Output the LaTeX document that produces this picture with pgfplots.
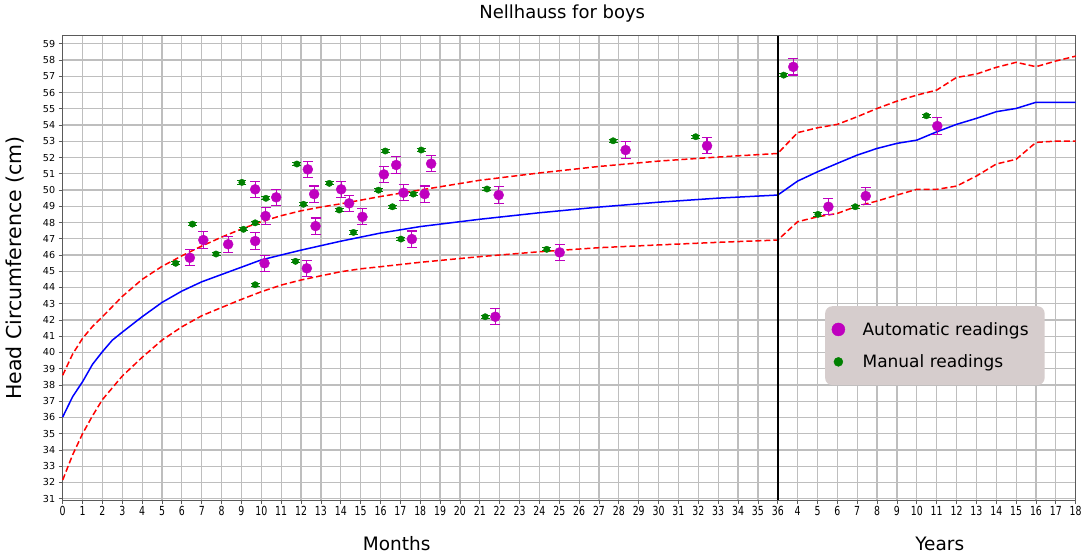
\documentclass[border=0pt]{standalone}
\usepackage{fontspec}
\setmainfont{DejaVu Sans}
\usepackage{pgfplots}
\usepackage{pgfplotstable}
\pgfplotsset{compat=1.18}

\definecolor{magc}{RGB}{191,0,191}
\definecolor{grn}{RGB}{0,128,0}
\definecolor{legbg}{RGB}{214,205,205}
\definecolor{gridc}{RGB}{190,190,190}
\definecolor{spine}{RGB}{90,90,90}

% x: months 0..36, then years 4..18 at 37..51
\pgfplotstableread{
x y
0 36.03
0.5 37.28
1 38.2
1.5 39.27
2 40.05
2.5 40.76
3 41.25
4 42.2
5 43.08
6 43.78
7 44.35
8 44.8
9 45.25
10 45.7
12 46.3
14 46.85
16 47.35
18 47.75
21 48.2
24 48.6
27 48.95
30 49.25
33 49.5
36 49.69
37 50.55
38 51.12
39 51.64
40 52.15
41 52.56
42 52.87
43 53.07
44 53.58
45 54.04
46 54.41
47 54.82
48 55.02
49 55.4
50 55.4
51 55.4
}\meandata

\pgfplotstableread{
x y
0 38.6
0.5 39.9
1 40.87
1.5 41.6
2 42.2
3 43.45
4 44.5
5 45.3
6 45.95
7 46.55
8 47.1
9 47.6
10 48.05
11 48.42
12 48.72
13 48.95
14 49.15
16 49.6
18 50.0
21 50.6
24 51.05
27 51.45
30 51.78
33 52.03
36 52.25
37 53.53
38 53.83
39 54.04
40 54.51
41 55.02
42 55.47
43 55.84
44 56.15
45 56.93
46 57.14
47 57.55
48 57.86
49 57.59
50 57.94
51 58.24
}\upperdata

\pgfplotstableread{
x y
0 32.15
0.5 33.7
1 35.0
1.5 36.1
2 37.1
3 38.55
4 39.7
5 40.76
6 41.58
7 42.26
8 42.77
9 43.27
10 43.74
11 44.15
12 44.46
13 44.72
14 44.97
15 45.15
16 45.28
18 45.55
21 45.9
24 46.2
27 46.45
30 46.62
33 46.78
36 46.92
37 48.05
38 48.35
39 48.56
40 49.01
41 49.32
42 49.69
43 50.04
44 50.04
45 50.24
46 50.86
47 51.6
48 51.89
49 52.93
50 53.01
51 53.01
}\lowerdata

\pgfplotstableread{
x y e
6.40 45.83 0.5
7.08 46.92 0.5
8.33 46.66 0.5
9.69 50.04 0.5
9.69 46.86 0.5
10.16 45.49 0.5
10.21 48.40 0.5
10.75 49.55 0.5
12.29 45.18 0.5
12.34 51.27 0.5
12.66 49.75 0.5
12.73 47.78 0.5
14.02 50.04 0.5
14.42 49.18 0.5
15.09 48.35 0.5
16.17 50.96 0.5
16.79 51.54 0.5
17.16 49.83 0.5
17.58 46.98 0.5
18.22 49.75 0.5
18.55 51.62 0.5
21.78 42.20 0.5
21.95 49.69 0.5
25.02 46.16 0.5
28.34 52.46 0.5
32.44 52.72 0.5
36.78 57.58 0.5
38.55 48.97 0.5
40.43 49.63 0.5
44.03 53.94 0.5
}\autodata

\pgfplotstableread{
x y e
5.69 45.49 0.1
6.53 47.90 0.1
7.72 46.06 0.1
9.02 50.47 0.1
9.10 47.58 0.1
9.69 47.98 0.1
9.69 44.17 0.1
10.23 49.49 0.1
11.72 45.61 0.1
11.79 51.60 0.1
12.12 49.12 0.1
13.42 50.41 0.1
13.92 48.77 0.1
14.64 47.39 0.1
15.90 49.99 0.1
16.24 52.40 0.1
16.60 48.97 0.1
17.03 46.98 0.1
17.65 49.75 0.1
18.05 52.46 0.1
21.27 42.20 0.1
21.36 50.06 0.1
24.37 46.35 0.1
27.71 53.03 0.1
31.87 53.28 0.1
36.30 57.07 0.1
38.02 48.50 0.1
39.90 48.97 0.1
43.48 54.57 0.1
}\manualdata

\begin{document}
\begin{tikzpicture}
\begin{axis}[
  name=ax,
  scale only axis,
  width=1013pt, height=464pt,
  xmin=0, xmax=51, ymin=30.92, ymax=59.48,
  xtick={0,...,51}, ytick={31,...,59},
  xticklabel={\scalebox{0.75}[1]{\pgfmathtruncatemacro\lab{\tick<36.5 ? \tick : \tick-33}\lab}},
  /pgf/number format/assume math mode=true,
  xticklabel style={font=\fontsize{12.5}{14}\selectfont, yshift=1pt},
  yticklabel style={font=\fontsize{9.6}{11}\selectfont},
  grid=major,
  major grid style={gridc, line width=1.2pt},
  axis line style={spine, line width=1pt},
  tick align=outside, tick pos=left,
  major tick length=4pt,
  tick style={spine, line width=0.8pt},
  clip=false,
  legend cell align=left,
  legend image code/.code={%
    \path (-13pt,-16pt) (24pt,16pt);
    \draw[#1] plot coordinates {(0pt,0pt)};},
  legend style={at={(0.7525,0.418)}, anchor=north west, fill=legbg, draw=none,
    rounded corners=7pt, font=\fontsize{17}{20}\selectfont,
    inner xsep=0pt, inner ysep=7pt, row sep=0pt,
    nodes={inner xsep=0pt, inner ysep=0pt}},
]
\addplot[blue, line width=1.5pt, forget plot] table {\meandata};
\addplot[red, line width=1.5pt, dash pattern=on 6pt off 3pt, forget plot] table {\upperdata};
\addplot[red, line width=1.5pt, dash pattern=on 6pt off 3pt, forget plot] table {\lowerdata};
\addplot[black, line width=1.8pt, forget plot] coordinates {(36,30.92) (36,59.48)};

\addplot[only marks, mark=*, mark size=5pt, magc, mark options={fill=magc, draw=magc},
  legend image post style={mark size=6.5pt},
  error bars/.cd, y dir=both, y explicit,
  error bar style={magc, line width=1.2pt},
  error mark options={rotate=90, draw=magc, mark size=5pt, line width=1.1pt}]
  table[x=x, y=y, y error=e] {\autodata};
\addlegendentry{Automatic readings\kern16pt\null}

\addplot[only marks, mark=*, mark size=3.2pt, grn, mark options={fill=grn, draw=grn},
  legend image post style={mark size=4.5pt},
  error bars/.cd, y dir=both, y explicit,
  error bar style={grn, line width=1pt},
  error mark options={rotate=90, draw=grn, mark size=4.5pt, line width=1pt}]
  table[x=x, y=y, y error=e] {\manualdata};
\addlegendentry{Manual readings}
\end{axis}

\node[font=\fontsize{18}{21}\selectfont, anchor=base] at ([xshift=-7pt, yshift=17pt]ax.north) {Nellhauss for boys};
\node[font=\fontsize{20.5}{24}\selectfont, rotate=90, anchor=center] at ([xshift=-48pt]ax.west) {Head Circumference (cm)};
\node[font=\fontsize{18.5}{22}\selectfont, anchor=base] at ([xshift=334pt, yshift=-50pt]ax.south west) {Months};
\node[font=\fontsize{18.5}{22}\selectfont, anchor=base] at ([xshift=877pt, yshift=-50pt]ax.south west) {Years};

\pgfresetboundingbox
\path ([xshift=-62.7pt, yshift=36pt]ax.north west) rectangle ([xshift=8.3pt, yshift=-56pt]ax.south east);
\end{tikzpicture}
\end{document}
